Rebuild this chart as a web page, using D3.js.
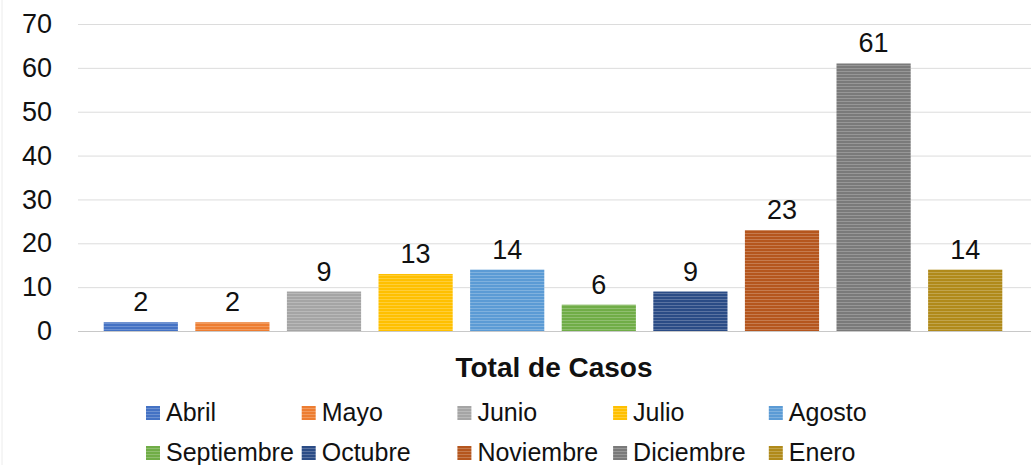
<!DOCTYPE html>
<html>
<head>
<meta charset="utf-8">
<script src="https://cdn.jsdelivr.net/npm/d3@7"></script>
<style>
  body { margin: 0; background: #fff; }
  svg text { font-family: "Liberation Sans", Arial, sans-serif; fill: #111; }
</style>
</head>
<body>
<svg id="chart"></svg>
<script>
// months (categories) and the case counts
var months = ["Abril","Mayo","Junio","Julio","Agosto","Septiembre","Octubre","Noviembre","Diciembre","Enero"];
var cases = [2, 2, 9, 13, 14, 6, 9, 23, 61, 14];
var colors = ["#4472C4","#ED7D31","#A5A5A5","#FFC000","#5B9BD5","#70AD47","#2B4C86","#B5561E","#7A7A7A","#B08A1A"];
var yTicks = [0, 10, 20, 30, 40, 50, 60, 70];
var title = "Total de Casos";

var screen = {width:1031, height:465};
var margins = {left:78, right:0, top:24, bottom:134};
var graph = {
    width: screen.width - margins.left - margins.right,
    height: screen.height - margins.top - margins.bottom
};

var svg = d3.select("#chart")
    .attr("width", screen.width)
    .attr("height", screen.height);

//striped fills, one per month
var defs = svg.append("defs");
months.forEach(function(m, i) {
    var p = defs.append("pattern")
        .attr("id", "stripe" + i)
        .attr("patternUnits", "userSpaceOnUse")
        .attr("width", 6)
        .attr("height", 3);
    p.append("rect").attr("width", 6).attr("height", 3).attr("fill", colors[i]);
    p.append("rect").attr("y", 2).attr("width", 6).attr("height", 1)
        .attr("fill", "#fff").attr("fill-opacity", 0.22);
});

//faint frame on the left
svg.append("line")
    .attr("x1", 2).attr("x2", 2).attr("y1", 0).attr("y2", screen.height)
    .attr("stroke", "#ececec");

var xScale = d3.scaleBand()
    .domain(months)
    .range([95, 1011])
    .paddingInner(0.19)
    .paddingOuter(0.095);

var yScale = d3.scaleLinear()
    .domain([0, 70])
    .range([margins.top + graph.height, margins.top]);

//gridlines
svg.append("g")
    .selectAll("line")
    .data(yTicks.slice(1))
    .enter()
    .append("line")
    .attr("x1", margins.left)
    .attr("x2", screen.width)
    .attr("y1", function(d) { return yScale(d) + 0.5; })
    .attr("y2", function(d) { return yScale(d) + 0.5; })
    .attr("stroke", "#dcdcdc")
    .attr("stroke-width", 1);

//y axis labels
var yAxis = d3.axisLeft(yScale).tickValues(yTicks).tickSize(0).tickPadding(0);
svg.append("g")
    .attr("transform", "translate(52,0)")
    .call(yAxis)
    .call(function(g) { g.select(".domain").remove(); })
    .selectAll("text")
    .style("font-size", "27px")
    .style("font-family", "Liberation Sans, Arial, sans-serif")
    .attr("fill", "#111");

//bars
svg.append("g")
    .selectAll("rect")
    .data(cases)
    .enter()
    .append("rect")
    .attr("x", function(d, i) { return xScale(months[i]); })
    .attr("y", function(d) { return yScale(d); })
    .attr("width", xScale.bandwidth())
    .attr("height", function(d) { return yScale(0) - yScale(d); })
    .attr("fill", function(d, i) { return "url(#stripe" + i + ")"; });

//zero line
svg.append("line")
    .attr("x1", margins.left)
    .attr("x2", screen.width)
    .attr("y1", yScale(0) + 0.5)
    .attr("y2", yScale(0) + 0.5)
    .attr("stroke", "#c8c8c8");

//value labels
svg.append("g")
    .selectAll("text")
    .data(cases)
    .enter()
    .append("text")
    .text(function(d) { return d; })
    .attr("text-anchor", "middle")
    .attr("x", function(d, i) { return xScale(months[i]) + xScale.bandwidth() / 2; })
    .attr("y", function(d) { return yScale(d) - 11; })
    .style("font-size", "27px");

//title under the bars
svg.append("text")
    .text(title)
    .attr("text-anchor", "middle")
    .attr("x", 554)
    .attr("y", 377)
    .style("font-size", "28px")
    .style("font-weight", "bold");

//legend, two rows of five
var legend = svg.append("g");
var item = legend.selectAll("g")
    .data(months)
    .enter()
    .append("g")
    .attr("transform", function(d, i) {
        return "translate(" + (146 + (i % 5) * 155.7) + "," + (i < 5 ? 406 : 446) + ")";
    });
item.append("rect")
    .attr("width", 14)
    .attr("height", 14)
    .attr("fill", function(d, i) { return "url(#stripe" + i + ")"; });
item.append("text")
    .text(function(d) { return d; })
    .attr("x", 20)
    .attr("y", 15)
    .style("font-size", "25px");
</script>
</body>
</html>
